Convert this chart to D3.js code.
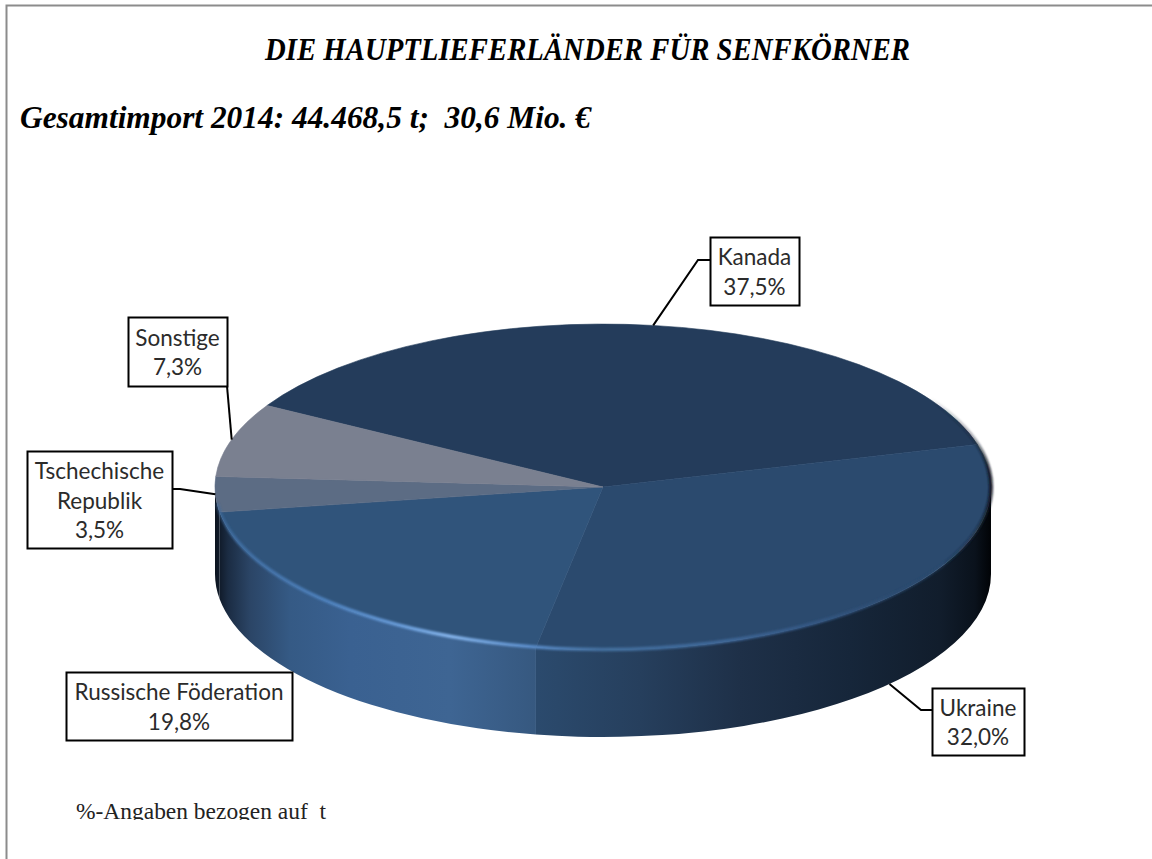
<!DOCTYPE html>
<html>
<head>
<meta charset="utf-8">
<script src="https://cdn.jsdelivr.net/npm/d3@7"></script>
<style>
  html, body { margin: 0; padding: 0; background: #fff; }
  svg { display: block; }
</style>
</head>
<body>
<div id="chart-area"></div>
<script>
// Data
const countries = ['Kanada', 'Ukraine', 'Russische Föderation', 'Tschechische Republik', 'Sonstige'];
const shares = [37.5, 32.0, 19.8, 3.5, 7.3];
const shareLabels = ['37,5%', '32,0%', '19,8%', '3,5%', '7,3%'];
const labelLines = [['Kanada'], ['Ukraine'], ['Russische Föderation'], ['Tschechische', 'Republik'], ['Sonstige']];

// Layout
const width = 1152;
const height = 859;
const cx = 603, cy = 487, rx = 388, ry = 163, depth = 87;
const topColors = ['#243c5b', '#2b4a6e', '#30547b', '#5c6c84', '#7a8090'];
// label boxes: left, top, right, bottom
const boxes = [[710, 237, 799, 305], [932, 688, 1024, 755], [66, 672, 292, 740], [27, 451, 172, 548], [128, 317, 227, 386]];
// elbow points of the leaders, null where there is no leader
const elbows = [[[698, 260], [710, 260]], [[921, 710], [932, 710]], null, [[180, 489], [172, 489]], [[227, 386], [227, 386]]];

const toRad = Math.PI / 180;
const svg = d3.select('#chart-area').append('svg')
  .attr('width', width)
  .attr('height', height);
const defs = svg.append('defs');

// horizontal gradient in page coordinates
function addGradient(id, stops) {
  const grad = defs.append('linearGradient')
    .attr('id', id)
    .attr('gradientUnits', 'userSpaceOnUse')
    .attr('x1', cx - rx).attr('x2', cx + rx)
    .attr('y1', 0).attr('y2', 0);
  stops.forEach((s) => {
    grad.append('stop')
      .attr('offset', (s[0] - (cx - rx)) / (2 * rx))
      .attr('stop-color', s[1])
      .attr('stop-opacity', s[2] === undefined ? 1 : s[2]);
  });
}

addGradient('wall-left', [[215, '#0b121d'], [228, '#1b2c43'], [250, '#2b4566'], [290, '#355a85'], [350, '#3a6191'], [450, '#3e6593'], [538, '#36587f']]);
addGradient('wall-right', [[538, '#2b4a6d'], [640, '#263f5d'], [740, '#1e3048'], [850, '#16263a'], [940, '#111d2c'], [975, '#0a121c'], [992, '#010306']]);
addGradient('rim', [[217, '#3f6c9f', 0.5], [235, '#3f6c9f'], [330, '#4f83c0'], [400, '#6a9edc'], [450, '#86b6ee'], [530, '#5c8fcd'], [600, '#44709f'], [720, '#3f6899'], [830, '#335580'], [920, '#2c4a6e', 0.6], [992, '#2b4a6e', 0]]);
addGradient('edge-dark', [[930, '#14202f', 0], [975, '#14202f', 0.45], [992, '#0a121c', 0.9]]);

defs.append('filter').attr('id', 'soft')
  .attr('filterUnits', 'userSpaceOnUse')
  .attr('x', 0).attr('y', 0).attr('width', width).attr('height', height)
  .append('feGaussianBlur').attr('stdDeviation', 1);
defs.append('clipPath').attr('id', 'note-clip')
  .append('rect').attr('x', 0).attr('y', 790).attr('width', width).attr('height', 30);

// Frame
svg.append('path')
  .attr('d', 'M6.5,' + height + ' V5.5 H' + width)
  .attr('fill', 'none')
  .attr('stroke', '#8c8c8c')
  .attr('stroke-width', 2);

// Slices, Kanada starts at 300 degrees and they run clockwise
const pie = d3.pie()
  .sort(null)
  .startAngle(300 * toRad)
  .endAngle(660 * toRad);
const slices = pie(shares);

const px = (a) => cx + rx * Math.sin(a);
const py = (a) => cy - ry * Math.cos(a);

// Side wall for the part of a slice facing the viewer
function wallPath(a0, a1) {
  return 'M' + px(a0) + ',' + py(a0)
    + 'A' + rx + ',' + ry + ' 0 0 1 ' + px(a1) + ',' + py(a1)
    + 'L' + px(a1) + ',' + (py(a1) + depth)
    + 'A' + rx + ',' + ry + ' 0 0 0 ' + px(a0) + ',' + (py(a0) + depth)
    + 'Z';
}
function edgePath(a0, a1) {
  const large = a1 - a0 > Math.PI ? 1 : 0;
  return 'M' + px(a0) + ',' + py(a0)
    + 'A' + rx + ',' + ry + ' 0 ' + large + ' 1 ' + px(a1) + ',' + py(a1);
}

const chart = svg.append('g');
const front = [90 * toRad, 270 * toRad];

slices.forEach((s, i) => {
  // angles may be past a full turn
  const turn = s.startAngle >= 2 * Math.PI ? 2 * Math.PI : 0;
  const a0 = Math.max(s.startAngle - turn, front[0]);
  const a1 = Math.min(s.endAngle - turn, front[1]);
  if (a1 <= a0) return;
  const fill = a0 < 189 * toRad ? 'url(#wall-right)' : 'url(#wall-left)';
  chart.append('path')
    .attr('class', 'wall')
    .attr('d', wallPath(a0, a1))
    .attr('fill', fill);
});

// Top face: unit arc scaled to the ellipse
const arc = d3.arc().innerRadius(0).outerRadius(1);
chart.append('g')
  .attr('transform', 'translate(' + cx + ',' + cy + ') scale(' + rx + ',' + ry + ')')
  .selectAll('path')
  .data(slices)
  .enter()
  .append('path')
  .attr('class', 'slice')
  .attr('d', arc)
  .attr('fill', (d, i) => topColors[i])
  .attr('stroke', (d, i) => topColors[i])
  .attr('stroke-width', 0.6)
  .attr('vector-effect', 'non-scaling-stroke');

// Bevel along the front edge of the top face
chart.append('path')
  .attr('d', edgePath(80 * toRad, 264 * toRad))
  .attr('transform', 'translate(0,-0.5)')
  .attr('fill', 'none')
  .attr('stroke', 'url(#rim)')
  .attr('stroke-width', 3.5)
  .attr('filter', 'url(#soft)');

chart.append('path')
  .attr('d', edgePath(50 * toRad, 118 * toRad))
  .attr('fill', 'none')
  .attr('stroke', 'url(#edge-dark)')
  .attr('stroke-width', 4)
  .attr('filter', 'url(#soft)');

// Leaders
slices.forEach((s, i) => {
  if (!elbows[i]) return;
  const mid = (s.startAngle + s.endAngle) / 2;
  // the Ukraine leader comes out of the wall, so from the lower edge
  const start = [px(mid), py(mid) + (Math.cos(mid) < -0.3 ? depth : 0)];
  svg.append('path')
    .attr('class', 'leader')
    .attr('d', d3.line()([start].concat(elbows[i])))
    .attr('fill', 'none')
    .attr('stroke', '#000')
    .attr('stroke-width', 2);
});

// Label boxes
const lineGap = 29.5;
countries.forEach((name, i) => {
  const b = boxes[i];
  const lines = labelLines[i].concat(shareLabels[i]);
  const mx = (b[0] + b[2]) / 2;
  const my = (b[1] + b[3]) / 2;
  const label = svg.append('g').attr('class', 'label');
  label.append('rect')
    .attr('x', b[0] + 0.5).attr('y', b[1] + 0.5)
    .attr('width', b[2] - b[0]).attr('height', b[3] - b[1])
    .attr('fill', '#fff')
    .attr('stroke', '#000')
    .attr('stroke-width', 2);
  lines.forEach((line, j) => {
    label.append('text')
      .attr('x', mx)
      .attr('y', my + (j - (lines.length - 1) / 2) * lineGap + 9)
      .attr('text-anchor', 'middle')
      .attr('font-family', 'Lato, sans-serif')
      .attr('font-size', 22.5)
      .attr('fill', '#2b2b2b')
      .text(line);
  });
});

// Titles
svg.append('text')
  .attr('x', 265).attr('y', 60)
  .attr('font-family', '"Liberation Serif", serif')
  .attr('font-style', 'italic')
  .attr('font-weight', 'bold')
  .attr('font-size', 31)
  .attr('textLength', 645)
  .attr('lengthAdjust', 'spacingAndGlyphs')
  .attr('fill', '#000')
  .text('DIE HAUPTLIEFERLÄNDER FÜR SENFKÖRNER');

svg.append('text')
  .attr('x', 20).attr('y', 128)
  .attr('font-family', '"Liberation Serif", serif')
  .attr('font-style', 'italic')
  .attr('font-weight', 'bold')
  .attr('font-size', 32)
  .attr('textLength', 571)
  .attr('lengthAdjust', 'spacingAndGlyphs')
  .attr('fill', '#000')
  .style('white-space', 'pre')
  .text('Gesamtimport 2014: 44.468,5 t;  30,6 Mio. €');

svg.append('text')
  .attr('x', 76).attr('y', 819)
  .attr('font-family', '"Liberation Serif", serif')
  .attr('font-size', 23)
  .attr('textLength', 250)
  .attr('lengthAdjust', 'spacingAndGlyphs')
  .attr('fill', '#222')
  .attr('clip-path', 'url(#note-clip)')
  .style('white-space', 'pre')
  .text('%-Angaben bezogen auf  t');
</script>
</body>
</html>
